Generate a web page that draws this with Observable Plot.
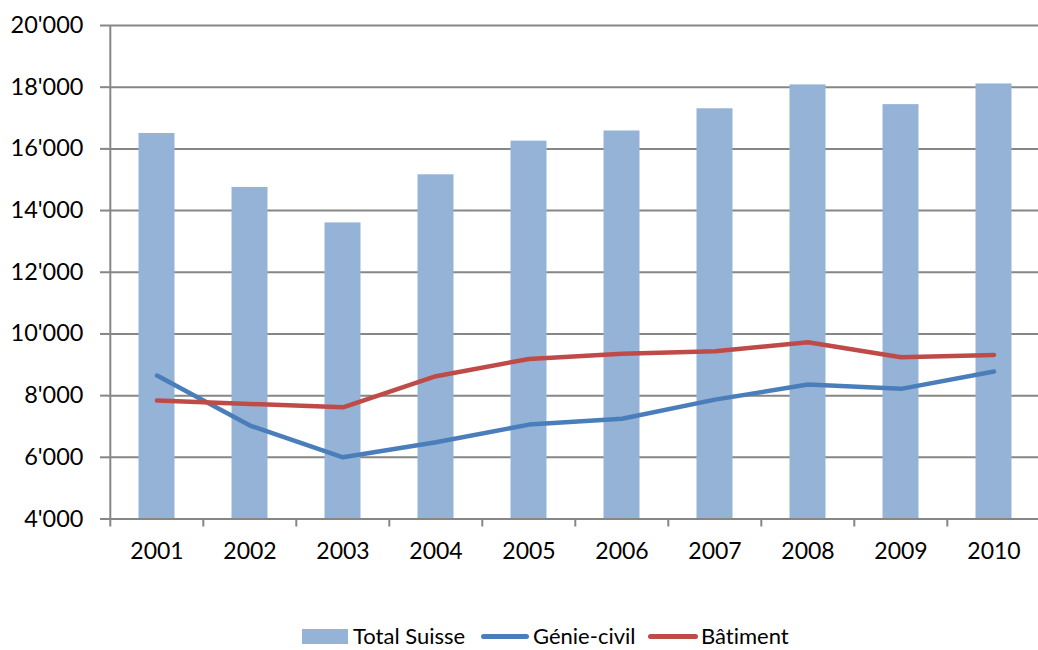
<!DOCTYPE html>
<html>
<head>
<meta charset="utf-8">
<script src="https://cdn.jsdelivr.net/npm/d3@7"></script>
<script src="https://cdn.jsdelivr.net/npm/@observablehq/plot@0.6"></script>
<style>
  html, body { margin: 0; padding: 0; background: #fff; }
  body { width: 1038px; height: 650px; overflow: hidden; position: relative; font-family: Lato, "Open Sans", sans-serif; font-variant-ligatures: none; }
  svg text { font-variant-ligatures: none; }
  #legend { position: absolute; left: 0; top: 622px; width: 1038px; height: 28px; font-size: 22px; color: #000; }
  #legend > * { position: absolute; }
  .sw { top: 7px; width: 46px; height: 15px; background: #95B3D7; }
  .ln { top: 12px; height: 4.5px; border-radius: 3px; }
  .tx { top: 0; line-height: 28px; white-space: nowrap; }
</style>
</head>
<body>
<div id="chart"></div>
<div id="legend">
  <div class="sw" style="left:302px"></div><span class="tx" style="left:353px">Total Suisse</span>
  <div class="ln" style="left:481px;width:48px;background:#4A7EBB"></div><span class="tx" style="left:533px">Génie-civil</span>
  <div class="ln" style="left:648px;width:50px;background:#BE4B48"></div><span class="tx" style="left:701px">Bâtiment</span>
</div>
<script>
const years = ["2001","2002","2003","2004","2005","2006","2007","2008","2009","2010"];
const totalSuisse = [16500, 14750, 13600, 15160, 16250, 16580, 17300, 18075, 17435, 18105];
const genieCivil  = [8650, 7030, 6000, 6490, 7060, 7250, 7870, 8360, 8220, 8780];
const batiment    = [7840, 7730, 7620, 8630, 9190, 9355, 9440, 9730, 9245, 9320];
const yTicks = [4000, 6000, 8000, 10000, 12000, 14000, 16000, 18000, 20000];

const bars = years.map((y, i) => ({year: y, value: totalSuisse[i]}));
const gc = years.map((y, i) => ({year: y, value: genieCivil[i]}));
const bt = years.map((y, i) => ({year: y, value: batiment[i]}));

const fmt = d => d3.format(",")(d).replace(/,/g, "'");
const xLeft = 108, xRight = 1042;
const step = (xRight - xLeft) / years.length;
const grid = "#868686";

const chart = Plot.plot({
  width: 1038,
  height: 600,
  marginTop: 25,
  marginBottom: 81.5,
  marginLeft: 108,
  marginRight: 0,
  style: {fontFamily: "Lato, 'Open Sans', sans-serif", fontSize: "23px", color: "#000", background: "#fff"},
  x: {domain: years, range: [xLeft, xRight], padding: 0},
  y: {domain: [4000, 20000], ticks: yTicks},
  marks: [
    Plot.ruleY(yTicks, {stroke: grid, strokeWidth: 2}),
    Plot.barY(bars, {x: "year", y1: 4000, y2: "value", fill: "#95B3D7", insetLeft: 28.5, insetRight: 28.5}),
    Plot.ruleX([years[0]], {dx: -step / 2, y1: 4000, y2: 20000, stroke: grid, strokeWidth: 2}),
    Plot.ruleY([4000], {stroke: grid, strokeWidth: 2}),
    Plot.axisY({ticks: yTicks, tickFormat: fmt, tickSize: 8, tickPadding: 17, stroke: grid, strokeWidth: 2, label: null, fill: "#000", fontSize: 23.5}),
    Plot.axisX({tickSize: 8, tickFormat: () => "", dx: -step / 2, stroke: grid, strokeWidth: 2, label: null}),
    Plot.axisX({tickSize: 0, tickPadding: 24, label: null, fill: "#000"}),
    Plot.line(gc, {x: "year", y: "value", stroke: "#4A7EBB", strokeWidth: 4.5, strokeLinecap: "round", strokeLinejoin: "round"}),
    Plot.line(bt, {x: "year", y: "value", stroke: "#BE4B48", strokeWidth: 4.5, strokeLinecap: "round", strokeLinejoin: "round"})
  ]
});
document.getElementById("chart").appendChild(chart);
</script>
</body>
</html>
